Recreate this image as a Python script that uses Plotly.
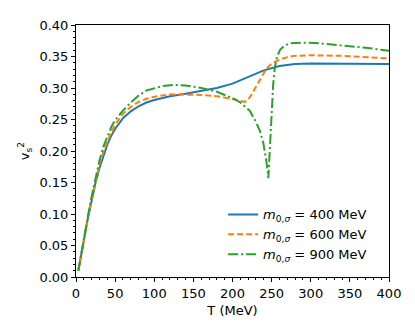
import plotly.graph_objects as go

T_400 = [3, 5, 10, 15, 20, 25, 30, 35, 40, 45, 50, 60, 70, 80, 90, 100, 120, 140, 160, 180, 200, 220, 240, 260, 280, 300, 350, 400]
v_400 = [0.010, 0.025, 0.058, 0.092, 0.122, 0.150, 0.173, 0.193, 0.210, 0.224, 0.235, 0.252, 0.263, 0.271, 0.277, 0.281, 0.287, 0.291, 0.295, 0.300, 0.307, 0.318, 0.328, 0.335, 0.338, 0.339, 0.339, 0.338]

T_600 = [3, 5, 10, 15, 20, 25, 30, 35, 40, 45, 50, 60, 70, 80, 90, 100, 120, 140, 160, 180, 200, 210, 215, 219, 223, 227, 231, 237, 243, 250, 260, 270, 280, 300, 340, 400]
v_600 = [0.010, 0.025, 0.058, 0.093, 0.124, 0.153, 0.178, 0.199, 0.216, 0.230, 0.242, 0.259, 0.270, 0.278, 0.283, 0.286, 0.290, 0.290, 0.289, 0.287, 0.283, 0.280, 0.278, 0.280, 0.287, 0.296, 0.305, 0.318, 0.330, 0.339, 0.345, 0.349, 0.351, 0.352, 0.351, 0.347]

T_900 = [3, 5, 10, 15, 20, 25, 30, 35, 40, 45, 50, 60, 70, 80, 90, 100, 110, 125, 140, 160, 180, 200, 210, 222, 230, 235, 239.5, 243.5, 245.8, 247, 248.8, 250, 252, 254, 257, 261, 267, 275, 290, 310, 340, 370, 400]
v_900 = [0.010, 0.025, 0.059, 0.095, 0.128, 0.158, 0.185, 0.207, 0.224, 0.238, 0.249, 0.264, 0.277, 0.288, 0.296, 0.300, 0.303, 0.305, 0.304, 0.300, 0.294, 0.284, 0.277, 0.264, 0.246, 0.232, 0.212, 0.182, 0.157, 0.186, 0.227, 0.275, 0.306, 0.332, 0.350, 0.361, 0.368, 0.371, 0.372, 0.371, 0.368, 0.364, 0.359]

labels = ["<i>m</i><sub>0,<i>σ</i></sub> = 400 MeV",
          "<i>m</i><sub>0,<i>σ</i></sub> = 600 MeV",
          "<i>m</i><sub>0,<i>σ</i></sub> = 900 MeV"]

fig = go.Figure()
fig.add_trace(go.Scatter(x=T_400, y=v_400, mode="lines", name=labels[0],
                         line=dict(color="#1f77b4", width=2)))
fig.add_trace(go.Scatter(x=T_600, y=v_600, mode="lines", name=labels[1],
                         line=dict(color="#ff7f0e", width=2, dash="6px,3px")))
fig.add_trace(go.Scatter(x=T_900, y=v_900, mode="lines", name=labels[2],
                         line=dict(color="#2ca02c", width=2, dash="10px,3px,2px,3px")))

axis_common = dict(showline=True, linecolor="black", linewidth=1, mirror=True,
                   ticks="outside", ticklen=4, tickcolor="black", showgrid=False,
                   zeroline=False, tickfont=dict(size=13, color="black"))

fig.update_xaxes(range=[0, 400], dtick=50, tick0=0,
                 minor=dict(dtick=10, ticks="outside", ticklen=2, tickcolor="black"),
                 title=dict(text="T (MeV)", font=dict(size=13, color="black"), standoff=6),
                 **axis_common)
fig.update_yaxes(range=[0, 0.40], dtick=0.05, tick0=0, tickformat=".2f",
                 minor=dict(dtick=0.01, ticks="outside", ticklen=2, tickcolor="black"),
                 title=dict(text="v<sub>s</sub><sup>2</sup>", font=dict(size=13, color="black"), standoff=6),
                 **axis_common)

fig.update_layout(
    width=407, height=324,
    margin=dict(l=68, r=26, t=10, b=55),
    paper_bgcolor="white", plot_bgcolor="white",
    font=dict(family="DejaVu Sans", size=13, color="black"),
    legend=dict(x=0.47, xanchor="left", y=0.03, yanchor="bottom",
                bgcolor="rgba(255,255,255,0.8)", borderwidth=0,
                font=dict(size=13)),
)

fig.write_html("out.html")
